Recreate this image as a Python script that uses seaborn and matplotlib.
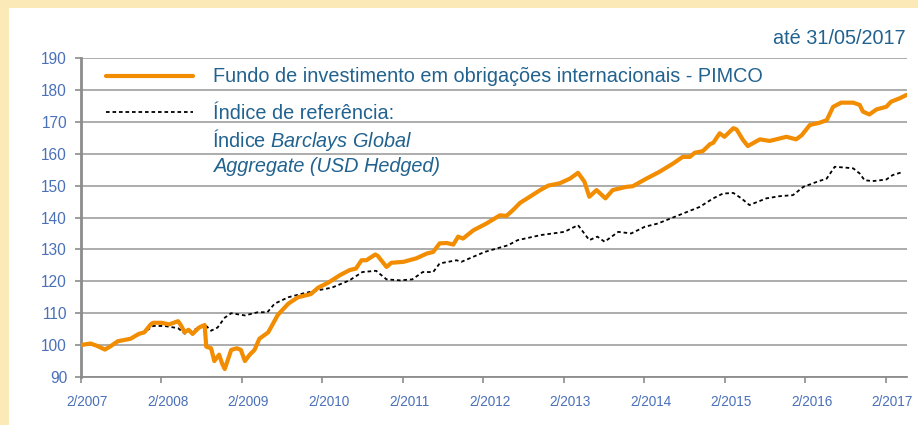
import numpy as np
import pandas as pd
import matplotlib
matplotlib.use("Agg")
import matplotlib.pyplot as plt
import matplotlib.transforms as mtrans
import seaborn as sns
from matplotlib.lines import Line2D
from matplotlib.patches import Rectangle

# fund (orange) - decimal year / index value
fund_t = [2007.08, 2007.20, 2007.28, 2007.38, 2007.46, 2007.54, 2007.70, 2007.80, 2007.87, 2007.95,
          2007.98, 2008.08, 2008.18, 2008.29, 2008.33, 2008.37, 2008.42, 2008.47, 2008.55, 2008.62,
          2008.64, 2008.70, 2008.74, 2008.80, 2008.84, 2008.87, 2008.95, 2009.02, 2009.07, 2009.12,
          2009.18, 2009.24, 2009.30, 2009.41, 2009.53, 2009.66, 2009.78, 2009.94, 2010.03, 2010.15,
          2010.30, 2010.42, 2010.50, 2010.57, 2010.63, 2010.74, 2010.77, 2010.88, 2010.94, 2011.09,
          2011.25, 2011.38, 2011.46, 2011.54, 2011.63, 2011.71, 2011.77, 2011.83, 2011.96, 2012.12,
          2012.29, 2012.37, 2012.45, 2012.54, 2012.66, 2012.79, 2012.89, 2013.03, 2013.16, 2013.26,
          2013.34, 2013.40, 2013.49, 2013.60, 2013.69, 2013.86, 2013.94, 2014.11, 2014.27, 2014.44,
          2014.56, 2014.65, 2014.71, 2014.81, 2014.90, 2014.94, 2015.02, 2015.08, 2015.19, 2015.23,
          2015.31, 2015.37, 2015.52, 2015.64, 2015.77, 2015.85, 2015.97, 2016.04, 2016.14, 2016.26,
          2016.35, 2016.43, 2016.53, 2016.68, 2016.76, 2016.80, 2016.88, 2016.97, 2017.09, 2017.15,
          2017.26, 2017.34]
fund_v = [100.0, 100.5, 99.8, 98.6, 99.8, 101.2, 102.0, 103.5, 104.0, 106.5,
          107.0, 107.0, 106.5, 107.5, 106.0, 104.0, 104.8, 103.5, 105.5, 106.3,
          99.5, 99.0, 95.0, 97.0, 94.0, 92.5, 98.5, 99.0, 98.5, 95.0,
          97.0, 98.5, 102.0, 104.0, 109.5, 113.0, 115.0, 116.0, 118.0, 119.5,
          121.9, 123.5, 124.0, 126.6, 126.6, 128.4, 128.0, 124.5, 125.8, 126.1,
          127.2, 128.7, 129.2, 131.9, 132.0, 131.5, 134.0, 133.4, 136.0, 138.1,
          140.7, 140.5, 142.3, 144.6, 146.5, 148.6, 150.0, 150.7, 152.2, 154.0,
          151.2, 146.5, 148.6, 146.0, 148.6, 149.6, 149.8, 152.2, 154.3, 156.9,
          159.0, 159.0, 160.3, 160.8, 163.0, 163.4, 166.4, 165.3, 168.0, 167.6,
          164.3, 162.4, 164.5, 164.0, 164.8, 165.3, 164.5, 165.8, 169.0, 169.7,
          170.5, 174.7, 176.0, 176.0, 175.3, 173.2, 172.3, 173.9, 174.7, 176.3,
          177.4, 178.4]

# benchmark (black dotted)
bench_t = [2007.08, 2007.20, 2007.38, 2007.54, 2007.70, 2007.87, 2007.98, 2008.12, 2008.29, 2008.37,
           2008.47, 2008.62, 2008.70, 2008.78, 2008.87, 2008.95, 2009.12, 2009.28, 2009.40, 2009.49,
           2009.66, 2009.86, 2010.03, 2010.20, 2010.42, 2010.58, 2010.75, 2010.88, 2011.05, 2011.20,
           2011.33, 2011.46, 2011.54, 2011.75, 2011.81, 2012.10, 2012.39, 2012.51, 2012.80, 2013.09,
           2013.26, 2013.40, 2013.50, 2013.59, 2013.76, 2013.92, 2014.09, 2014.25, 2014.46, 2014.62,
           2014.77, 2014.94, 2015.06, 2015.19, 2015.29, 2015.39, 2015.60, 2015.77, 2015.93, 2016.06,
           2016.23, 2016.35, 2016.45, 2016.60, 2016.68, 2016.76, 2016.82, 2016.92, 2017.09, 2017.17,
           2017.30]
bench_v = [100.0, 100.3, 98.8, 101.2, 102.0, 104.0, 106.0, 106.0, 105.3, 103.6,
           104.5, 106.5, 104.5, 105.5, 108.6, 110.0, 109.3, 110.3, 110.3, 113.0,
           115.0, 116.3, 117.2, 118.0, 120.3, 122.9, 123.3, 120.6, 120.3, 120.6,
           122.9, 122.9, 125.6, 126.6, 126.1, 129.2, 131.3, 132.9, 134.5, 135.5,
           137.6, 132.9, 134.0, 132.4, 135.5, 135.0, 137.1, 138.1, 140.2, 141.8,
           143.3, 146.0, 147.5, 147.7, 146.0, 143.9, 146.0, 146.7, 147.0, 149.6,
           151.2, 152.2, 155.9, 155.6, 155.4, 153.8, 151.7, 151.4, 151.9, 153.3,
           154.3]

years = list(range(2007, 2018))
tick_labels = [f"2/{y}" for y in years]
yticks = list(range(90, 191, 10))

label_fund = "Fundo de investimento em obrigações internacionais - PIMCO"
label_bench = "Índice de referência:"
label_bench2 = "Índice $\\mathit{Barclays\\ Global}$"
label_bench3 = "Aggregate (USD Hedged)"
date_note = "até 31/05/2017"

sns.set_style("white")
plt.rcParams['font.family'] = ['Liberation Sans', 'DejaVu Sans']
plt.rcParams['mathtext.fontset'] = 'custom'
plt.rcParams['mathtext.it'] = 'Liberation Sans:italic'
plt.rcParams['mathtext.rm'] = 'Liberation Sans'

orange = '#F28C00'
txt_blue = '#21628F'
tick_blue = '#4A70B8'
grid_gray = '#A6A6A6'
fs = 14.3

fig = plt.figure(figsize=(9.18, 4.25), dpi=100, facecolor='#FCE9B8')
fig.patches.append(Rectangle((9 / 918, 0), 1, 1 - 8 / 425, transform=fig.transFigure,
                             facecolor='white', edgecolor='none', zorder=-10))

ax = fig.add_axes([81 / 918, 1 - 377 / 425, (907 - 81) / 918, (377 - 58) / 425])
ax.set_facecolor('white')

sns.lineplot(x=bench_t, y=bench_v, ax=ax, color='black', lw=1.3,
             linestyle=(0, (2, 1.6)), estimator=None, zorder=3)
sns.lineplot(x=fund_t, y=fund_v, ax=ax, color=orange, lw=3.0,
             estimator=None, zorder=4)

x0 = 2007 + 1 / 12
ax.set_xlim(x0, x0 + (907 - 81) / 80.47)
ax.set_ylim(90, 190)
ax.set_xticks([y + 1 / 12 for y in years])
ax.set_xticklabels(tick_labels)
ax.set_yticks(yticks)
ax.yaxis.grid(True, color=grid_gray, lw=1.3)
ax.set_axisbelow(True)

for s in ['top', 'right']:
    ax.spines[s].set_visible(False)
ax.spines['left'].set_color('#8C8C8C')
ax.spines['left'].set_linewidth(2)
ax.spines['bottom'].set_color('#8C8C8C')
ax.spines['bottom'].set_linewidth(1.3)
ax.tick_params(axis='y', length=4, width=1.2, color='#8C8C8C', labelcolor=tick_blue,
               labelsize=11.2, pad=6, left=True)
ax.tick_params(axis='x', length=4, width=1.2, color='#8C8C8C', labelcolor=tick_blue,
               labelsize=9.8, pad=9, bottom=True)
ax.set_xlabel('')
ax.set_ylabel('')

# x labels sit a little to the right of their ticks
shift = mtrans.ScaledTranslation(6.5 / 100, 0, fig.dpi_scale_trans)
for lab in ax.get_xticklabels():
    lab.set_transform(lab.get_transform() + shift)

handles = [Line2D([], [], color=orange, lw=3.0),
           Line2D([], [], color='black', lw=1.3, linestyle=(0, (2, 1.6)))]
leg = fig.legend(handles, [label_fund, label_bench], loc='upper left',
                 bbox_to_anchor=(106 / 918, 1 - 67.5 / 425), frameon=False,
                 fontsize=fs, handlelength=4.4, handletextpad=1.0,
                 labelspacing=0.87, borderpad=0, borderaxespad=0)
for t in leg.get_texts():
    t.set_color(txt_blue)

fig.text(212 / 918, 1 - 140 / 425, label_bench2, color=txt_blue, fontsize=fs, va='center')
fig.text(214 / 918, 1 - 166 / 425, label_bench3, color=txt_blue, fontsize=fs,
         va='center', style='italic')
fig.text(906 / 918, 1 - 38 / 425, date_note, color=txt_blue, fontsize=fs,
         va='center', ha='right')

fig.savefig('out.png', dpi=100, facecolor=fig.get_facecolor())
